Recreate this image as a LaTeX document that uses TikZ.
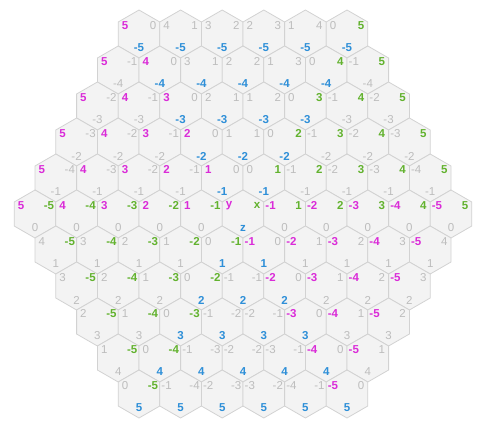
\documentclass[tikz,border=0pt]{standalone}
\usepackage{fontspec}
\setmainfont{Liberation Sans}
\definecolor{hexfill}{HTML}{F3F3F3}
\definecolor{hexline}{HTML}{D2D2D2}
\definecolor{labgray}{HTML}{BDBDBD}
\definecolor{xcol}{HTML}{62B22E}
\definecolor{ycol}{HTML}{DA2BD8}
\definecolor{zcol}{HTML}{2E8FD8}
\begin{document}
\begin{tikzpicture}[x=1pt,y=1pt,
  hexcell/.style={fill=hexfill,draw=hexline,line width=0.8pt},
  cold/.style={font=\fontsize{11.5}{11.5}\selectfont,text=labgray,inner sep=0pt},
  xhot/.style={font=\fontsize{11.5}{11.5}\selectfont\bfseries,text=xcol,inner sep=0pt},
  yhot/.style={font=\fontsize{11.5}{11.5}\selectfont\bfseries,text=ycol,inner sep=0pt},
  zhot/.style={font=\fontsize{11.5}{11.5}\selectfont\bfseries,text=zcol,inner sep=0pt}]
\useasboundingbox (0,0) rectangle (485,-429);
% hexagons
\foreach \cz in {-5,...,5} {
  \pgfmathtruncatemacro\xmin{max(-5,-5-\cz)}
  \pgfmathtruncatemacro\xmax{min(5,5-\cz)}
  \foreach \cx in {\xmin,...,\xmax} {
    \pgfmathsetmacro\px{243+41.6*(\cx+\cz/2)}
    \pgfmathsetmacro\py{-214-36*\cz}
    \draw[hexcell] (\px,\py) +(0,24) -- +(20.8,12) -- +(20.8,-12) -- +(0,-24) -- +(-20.8,-12) -- +(-20.8,12) -- cycle;
  }
}
% labels
\foreach \cz in {-5,...,5} {
  \pgfmathtruncatemacro\xmin{max(-5,-5-\cz)}
  \pgfmathtruncatemacro\xmax{min(5,5-\cz)}
  \foreach \cx in {\xmin,...,\xmax} {
    \pgfmathtruncatemacro\cy{-\cx-\cz}
    \pgfmathtruncatemacro\ax{abs(\cx)}
    \pgfmathtruncatemacro\ay{abs(\cy)}
    \pgfmathtruncatemacro\az{abs(\cz)}
    \pgfmathtruncatemacro\dd{max(\ax,\ay,\az)}
    \pgfmathtruncatemacro\ix{\cx+5}
    \pgfmathtruncatemacro\iz{\cz+5}
    \pgfmathsetmacro\px{243+41.6*(\cx+\cz/2)}
    \pgfmathsetmacro\py{-214-36*\cz}
    \ifnum\ax=\dd \def\sx{xhot}\else\def\sx{cold}\fi
    \ifnum\ay=\dd \def\sy{yhot}\else\def\sy{cold}\fi
    \ifnum\az=\dd \def\sz{zhot}\else\def\sz{cold}\fi
    \ifnum\dd=0
      \def\tx{x}\def\ty{y}\def\tz{z}
    \else
      \edef\tx{\cx}\edef\ty{\cy}\edef\tz{\cz}
    \fi
    \node[\sy] (ya\ix b\iz) at (\px-14,\py+8.5) {\ty};
    \node[\sx] (xa\ix b\iz) at (\px+14,\py+8.5) {\tx};
    \node[\sz] (za\ix b\iz) at (\px,\py-14) {\tz};
  }
}
\end{tikzpicture}
\end{document}
